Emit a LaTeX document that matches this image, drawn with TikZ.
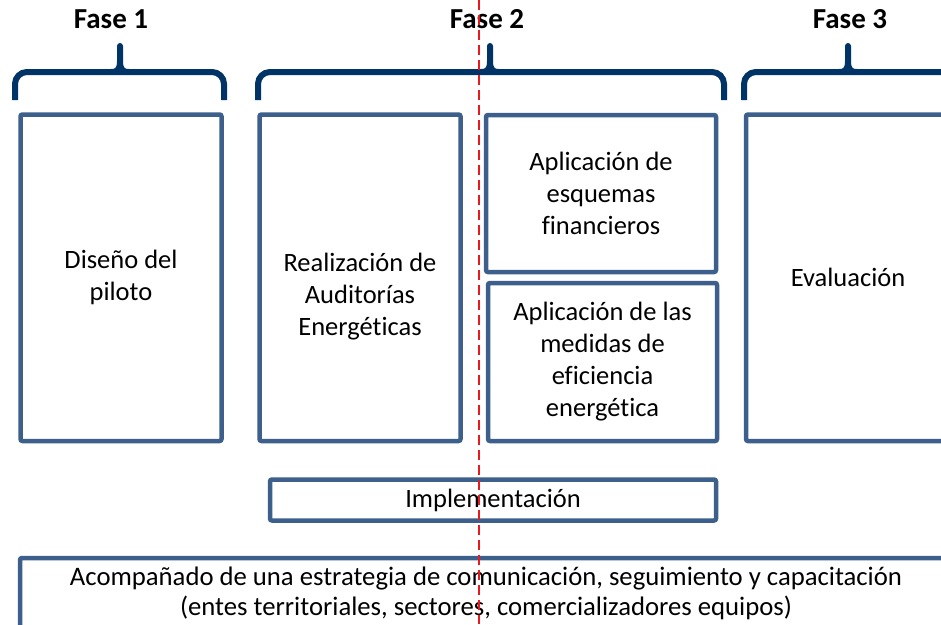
\documentclass[tikz,border=0pt]{standalone}
\usepackage{fontspec}
\setmainfont{Carlito}[Ligatures=NoCommon]
\usepackage{tikz}
\usetikzlibrary{calc}

\definecolor{bracenavy}{RGB}{0,51,102}
\definecolor{boxblue}{RGB}{60,95,140}
\definecolor{cutred}{RGB}{235,25,30}

\tikzset{
  fasebox/.style={draw=boxblue, line width=4.5pt, rounded corners=2pt, align=center, inner sep=0pt, font=\fontsize{26.5}{32}\selectfont},
  fasetext/.style={align=center, inner sep=0pt, font=\fontsize{26.5}{32}\selectfont},
  fasetitle/.style={font=\bfseries\fontsize{29}{34}\selectfont, anchor=base},
  fasebrace/.style={draw=bracenavy, line width=6pt},
}

\begin{document}
\begin{tikzpicture}[x=1pt,y=-1pt]
\useasboundingbox (0,0) rectangle (941,624);
\clip (0,0) rectangle (941,624);

\node[fasetitle] (fase1) at (111,28) {Fase 1};
\node[fasetitle] (fase2) at (487,28) {Fase 2};
\node[fasetitle] (fase3) at (850,28) {Fase 3};

\foreach \a/\m/\b in {15/120/224, 258/490/724, 744/848/990} {
  \draw[fasebrace, rounded corners=12pt] (\a,100) -- (\a,72) -- (\b,72) -- (\b,100);
  \draw[fasebrace, line cap=round] (\m-9,72) .. controls (\m-2,72) and (\m,69) .. (\m,61) -- (\m,46);
  \draw[fasebrace] (\m+9,72) .. controls (\m+2,72) and (\m,69) .. (\m,61);
}

\node[fasebox, minimum width=201, minimum height=326.5] (diseno) at (121,277.75) {Diseño del\\piloto};
\node[fasebox, minimum width=201, minimum height=326.5] (auditorias) at (360,277.75) {};
\node[fasetext] (auditorias text) at (360,297) {Realización de\\Auditorías\\Energéticas};
\node[fasebox, minimum width=230, minimum height=157] (esquemas) at (601,193.5) {Aplicación de\\esquemas\\financieros};
\node[fasebox, minimum width=229, minimum height=158] (medidas) at (602.5,362) {Aplicación de las\\medidas de\\eficiencia\\energética};
\node[fasebox, minimum width=204, minimum height=326.5] (evaluacion) at (848,277.75) {Evaluación};

\node[fasebox, minimum width=446, minimum height=41] (implementacion) at (493,500) {Implementación};

\node[fasebox, font=\fontsize{26.7}{30}\selectfont, minimum width=932, minimum height=70] (acompanado) at (486,593) {Acompañado de una estrategia de comunicación, seguimiento y capacitación\\(entes territoriales, sectores, comercializadores equipos)};

\coordinate (cut top) at (479,0);
\coordinate (cut bottom) at (479,624);
\draw[cutred, line width=2pt, dash pattern=on 10pt off 5pt] (cut top) -- (cut bottom);
\end{tikzpicture}
\end{document}
